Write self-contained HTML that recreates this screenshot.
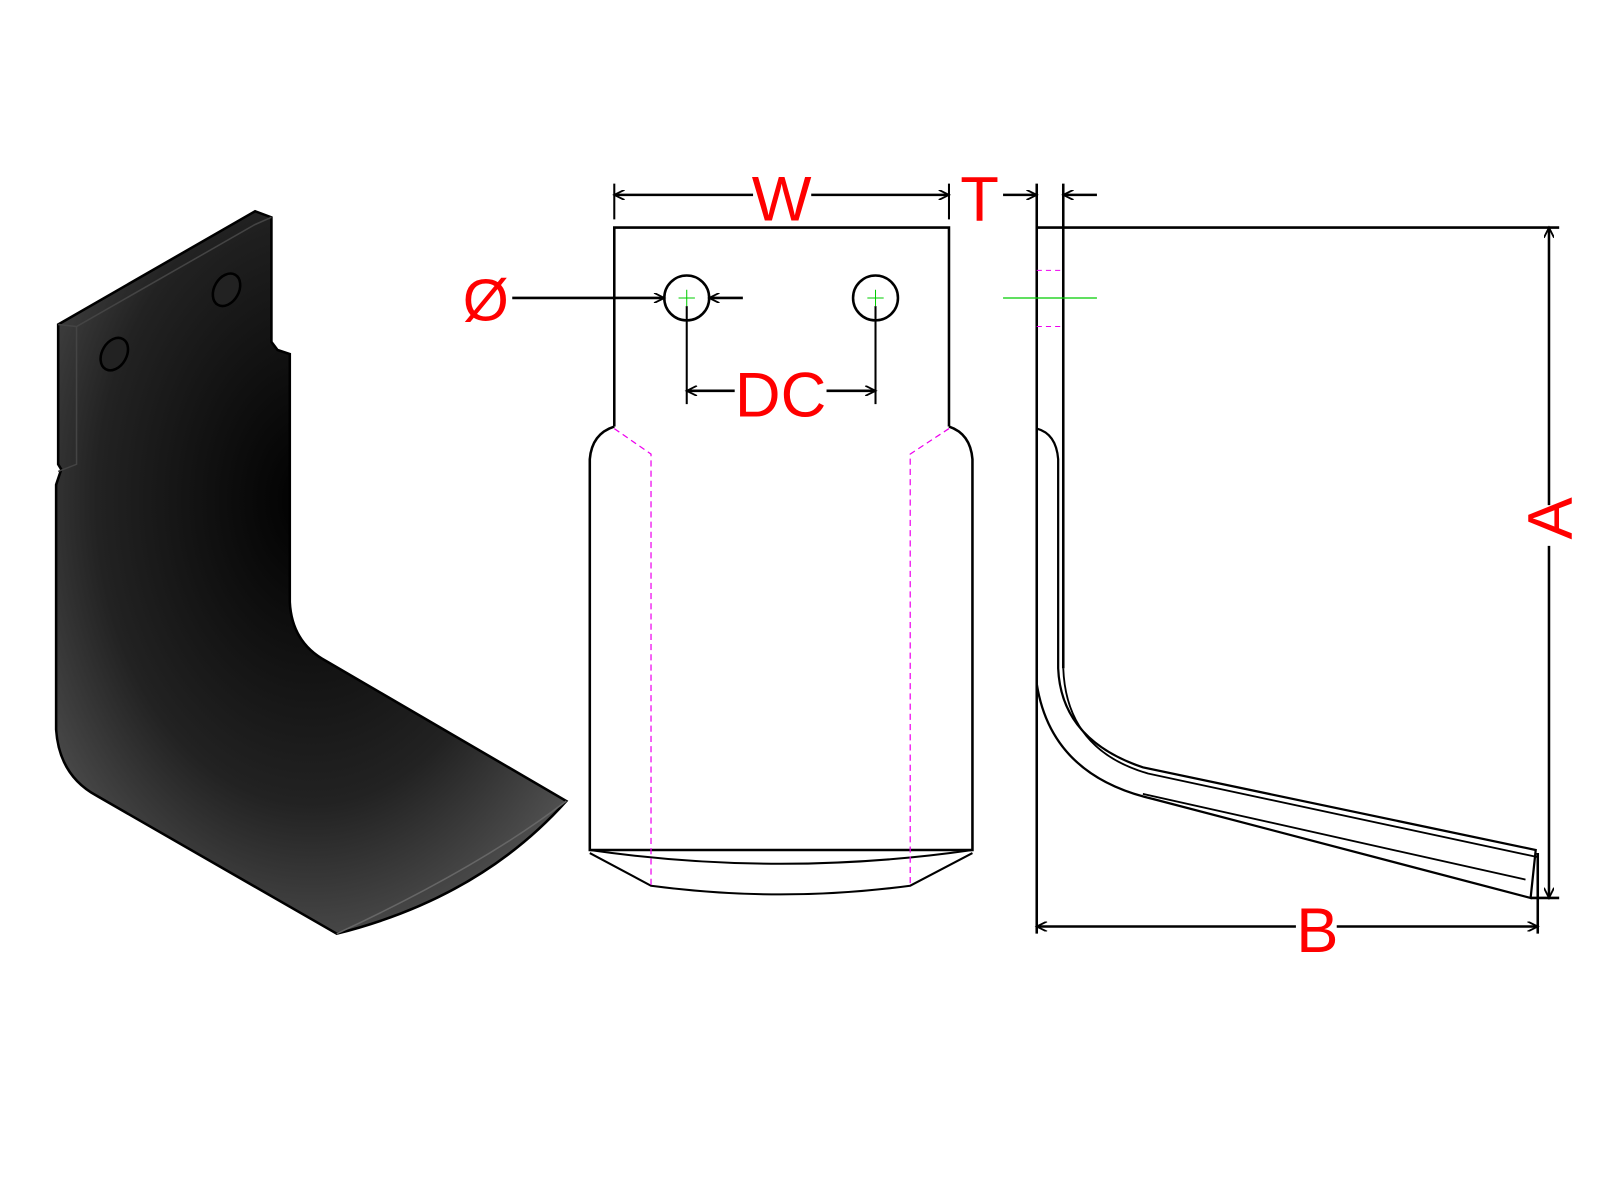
<!DOCTYPE html>
<html><head><meta charset="utf-8"><style>
html,body{margin:0;padding:0;background:#fff;width:1600px;height:1200px;overflow:hidden}
svg{display:block}
text{font-family:"Liberation Sans",Arial,sans-serif;fill:#f00}
</style></head><body>
<svg width="1600" height="1200" viewBox="0 0 1568 1176" xmlns="http://www.w3.org/2000/svg">
<defs>
<radialGradient id="g" cx="0.5" cy="0.4" r="0.7">
<stop offset="0" stop-color="#000"/><stop offset="0.6" stop-color="#222"/><stop offset="1" stop-color="#5a5a5a"/>
</radialGradient>
<marker id="ar" viewBox="0 0 10 10" refX="10" refY="5" markerWidth="14" markerHeight="10" orient="auto" markerUnits="userSpaceOnUse">
<path d="M0,0 L10,5 L0,10" fill="none" stroke="#000" stroke-width="1.8"/></marker>
</defs>
<!-- 3D object -->
<path d="M57,318 L250,207 L266,213 L266,335 L272,343 L284,347 L284,590 Q286,630 320,648 L555,785 Q470,880 330,915 L95,780 Q58,760 55,715 L55,475 L60,460 L57,455 Z" fill="url(#g)" stroke="#000" stroke-width="2.5"/>
<path d="M57,318 L75,320 L250,220 L266,213 M75,320 L75,455 L57,462" fill="none" stroke="#444" stroke-width="1.5"/>
<path d="M555,785 Q470,850 330,915" fill="none" stroke="#666" stroke-width="1.5"/>
<ellipse cx="112" cy="347" rx="12" ry="17" transform="rotate(30 112 347)" fill="#222" stroke="#000" stroke-width="2.5"/>
<ellipse cx="222" cy="284" rx="12" ry="17" transform="rotate(30 222 284)" fill="#222" stroke="#000" stroke-width="2.5"/>
<!-- front view -->
<g fill="none" stroke="#000" stroke-width="2.5">
<path d="M602,418 L602,223 L930,223 L930,418"/>
<path d="M602,418 Q580,425 578,450 L578,833 L953,833 L953,450 Q951,425 930,418"/>
<path d="M578,833 Q765,860 953,833" stroke-width="2"/>
<path d="M578,836 L638,868 Q765,885 892,868 L953,836" stroke-width="2"/>
<circle cx="673" cy="292" r="22"/><circle cx="858" cy="292" r="22"/>
<path d="M673,300 V396 M858,300 V396" stroke-width="2"/>
<path d="M602,180 V215 M930,180 V215" stroke-width="2"/>
<path d="M738,191 L602,191" marker-end="url(#ar)"/>
<path d="M795,191 L930,191" marker-end="url(#ar)"/>
<path d="M720,383 L673,383" marker-end="url(#ar)"/>
<path d="M810,383 L858,383" marker-end="url(#ar)"/>
<path d="M502,292 L651,292" marker-end="url(#ar)"/>
<path d="M728,292 L695,292" marker-end="url(#ar)"/>
</g>
<g stroke="#0c0" stroke-width="1"><path d="M665,292 H681 M673,284 V300 M850,292 H866 M858,284 V300"/></g>
<g fill="none" stroke="#e0e" stroke-width="1.2" stroke-dasharray="6,4">
<path d="M602,420 L638,445 L638,868 M930,420 L892,445 L892,868"/>
</g>
<!-- side view -->
<g fill="none" stroke="#000" stroke-width="2.5">
<path d="M1016,180 V915 M1042,180 V655"/>
<path d="M1016,223 H1528 M1500,880 H1528"/>
<path d="M1016,420 Q1035,425 1037,450 L1037,655 Q1040,725 1120,752 L1505,833 L1500,880 L1130,783 Q1030,760 1016,670" stroke-width="2.2"/>
<path d="M1042,655 Q1045,735 1125,758 L1507,840 M1120,778 L1495,862" stroke-width="1.8"/>
<path d="M1507,836 V915" />
<path d="M1518,495 L1518,223" marker-end="url(#ar)"/>
<path d="M1518,535 L1518,880" marker-end="url(#ar)"/>
<path d="M1270,908 L1016,908" marker-end="url(#ar)"/>
<path d="M1310,908 L1507,908" marker-end="url(#ar)"/>
<path d="M983,191 L1016,191" marker-end="url(#ar)"/>
<path d="M1075,191 L1042,191" marker-end="url(#ar)"/>
</g>
<g stroke="#0c0" stroke-width="1.2"><path d="M983,292 H1075"/></g>
<g stroke="#e0e" stroke-width="1" stroke-dasharray="5,4"><path d="M1016,265 H1042 M1016,320 H1042"/></g>
<!-- labels -->
<text x="766" y="216" font-size="62" text-anchor="middle">W</text>
<text x="960" y="216" font-size="62" text-anchor="middle">T</text>
<text x="476" y="314" font-size="58" text-anchor="middle">Ø</text>
<text x="765" y="408" font-size="62" text-anchor="middle">DC</text>
<text x="1291" y="933" font-size="62" text-anchor="middle">B</text>
<text x="0" y="0" font-size="62" text-anchor="middle" transform="translate(1540,508) rotate(-90)">A</text>
</svg>
</body></html>
